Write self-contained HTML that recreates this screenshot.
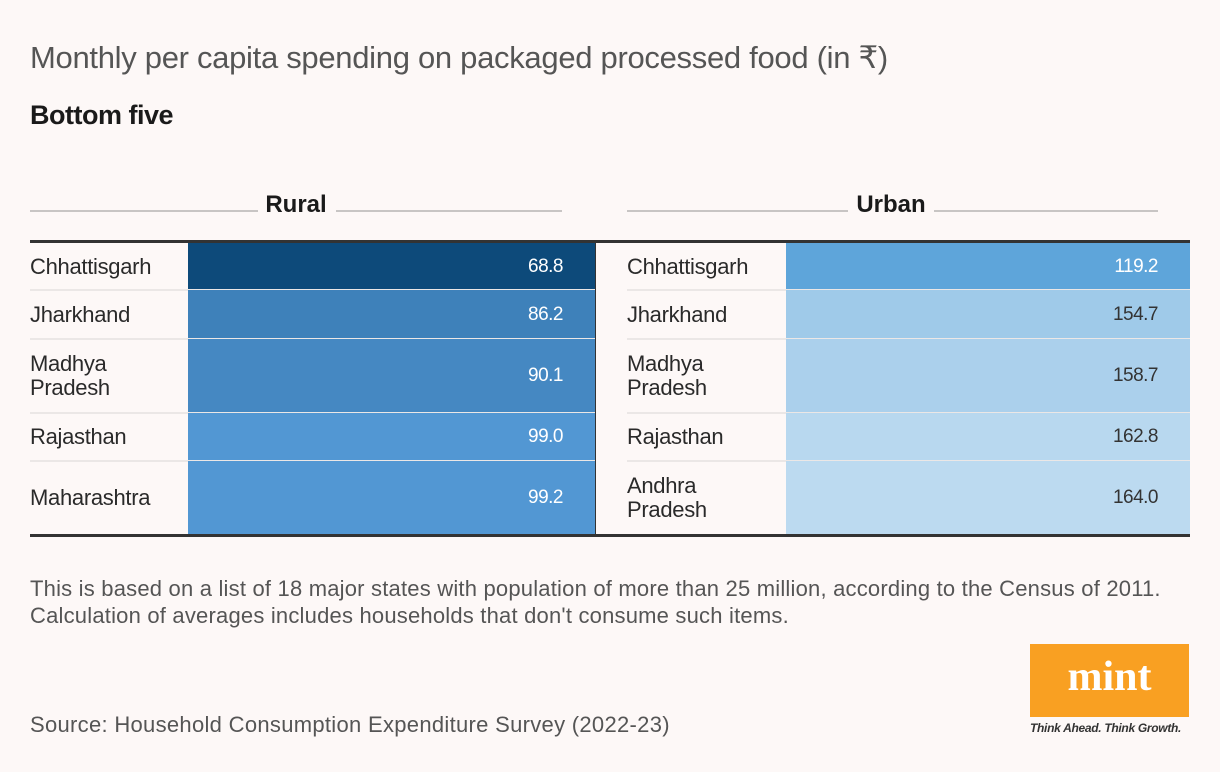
<!DOCTYPE html>
<html><head><meta charset="utf-8"><style>
body{margin:0;width:1220px;height:772px;background:#fdf8f7;font-family:"Liberation Sans",sans-serif;position:relative;overflow:hidden;color:#222}
.a{position:absolute}
.t{left:30px;top:40px;font-size:31px;color:#555;font-weight:300;letter-spacing:-0.3px}
.sub{left:30px;top:100px;font-size:27px;font-weight:bold;color:#1a1a1a;letter-spacing:-0.5px}
.hl{height:2px;background:#c8c5c4}
.hd{font-size:24px;font-weight:bold;color:#1a1a1a;top:191px}
.lab{font-size:22px;color:#2a2a2a;line-height:24px;letter-spacing:-0.3px}
.val{font-size:19px;color:#fff;text-align:right;letter-spacing:-0.5px}
.foot{left:30px;font-size:22px;color:#555;line-height:27px;letter-spacing:0.2px}
</style></head><body>
<div class="a t">Monthly per capita spending on packaged processed food (in ₹)</div>
<div class="a sub">Bottom five</div>
<div id="tables"></div>
<div class="a foot" style="top:575px">This is based on a list of 18 major states with population of more than 25 million, according to the Census of 2011.<br>Calculation of averages includes households that don't consume such items.</div>
<div class="a foot" style="top:711px;letter-spacing:0.3px">Source: Household Consumption Expenditure Survey (2022-23)</div>
<div class="a" style="left:1030px;top:644px;width:159px;height:73px;background:#f9a022"><div style="color:#fff;font-family:'Liberation Serif',serif;font-weight:bold;font-size:42px;text-align:center;line-height:66px">mint</div></div>
<div class="a" style="left:1030px;top:721px;font-size:12px;font-style:italic;font-weight:bold;color:#333;letter-spacing:-0.3px">Think Ahead. Think Growth.</div>
<script>
const ruralStates=["Chhattisgarh","Jharkhand","Madhya<br>Pradesh","Rajasthan","Maharashtra"];
const ruralValues=[68.8,86.2,90.1,99.0,99.2];
const urbanStates=["Chhattisgarh","Jharkhand","Madhya<br>Pradesh","Rajasthan","Andhra<br>Pradesh"];
const urbanValues=[119.2,154.7,158.7,162.8,164.0];
const rowTops=[243,290,339,413,461,534];
function lerp(a,b,t){return Math.round(a+(b-a)*t);}
function colorFor(v,vals,c0,c1,p){const mn=Math.min(...vals),mx=Math.max(...vals);const t=mx>mn?(v-mn)/(mx-mn):0;const s=Math.pow(t,p);return [lerp(c0[0],c1[0],s),lerp(c0[1],c1[1],s),lerp(c0[2],c1[2],s)];}
const root=document.getElementById('tables');
function mk(cls,style,html){const d=document.createElement('div');d.className='a '+cls;d.style.cssText=style;if(html!==undefined)d.innerHTML=html;root.appendChild(d);return d;}
function panel(x0,cellX,cellR,title,titleX,lineA,lineB,states,vals,c0,c1,p,key){
  let e=mk('hd',`left:${titleX}px;transform:translateX(-50%)`,title);
  
  
  e=mk('hl',`left:${lineA[0]}px;width:${lineA[1]-lineA[0]}px;top:210px`);
  
  
  e=mk('hl',`left:${lineB[0]}px;width:${lineB[1]-lineB[0]}px;top:210px`);
  
  
  states.forEach((s,i)=>{
    const top=rowTops[i],h=rowTops[i+1]-top;
    if(i>0){const l=mk('', `left:${x0}px;width:${cellR-x0}px;top:${top-1}px;height:2px;background:#ebe7e6`);
      
      }
    const col=colorFor(vals[i],vals,c0,c1,p);
    const lum=0.3*col[0]+0.59*col[1]+0.11*col[2];
    const c=mk('',`left:${cellX}px;width:${cellR-cellX}px;top:${top}px;height:${h}px;background:rgb(${col.join(',')})`);
    
    
    const lb=mk('lab',`left:${x0}px;top:${top+h/2-(s.includes('<br>')?24:12)}px`,s);
    
    
    const v=mk('val',`left:${cellX}px;width:${cellR-cellX-32}px;top:${top+h/2-11}px;color:${lum>175?'#333':'#fff'}`,vals[i].toFixed(1));
    
    
  });
}
panel(30,188,595,'Rural',296,[30,258],[336,562],ruralStates,ruralValues,[13,74,122],[82,151,211],0.6,'rural');
panel(627,786,1190,'Urban',891,[627,848],[934,1158],urbanStates,urbanValues,[94,165,218],[188,218,240],1.6,'urban');
let e=mk('',`left:30px;width:1160px;top:240px;height:3px;background:#333`);


e=mk('',`left:30px;width:1160px;top:534px;height:3px;background:#333`);


e=mk('',`left:595px;width:1px;top:243px;height:291px;background:#333`);


</script>
</body></html>
